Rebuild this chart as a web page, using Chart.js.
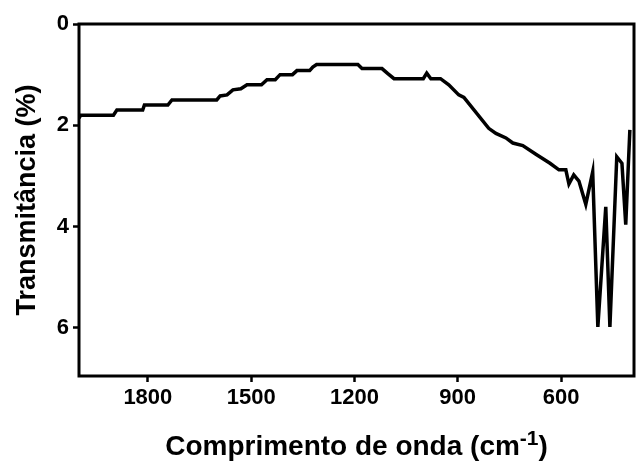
<!DOCTYPE html>
<html>
<head>
<meta charset="utf-8">
<script src="https://cdn.jsdelivr.net/npm/chart.js@4"></script>
<style>
  body { margin: 0; background: #fff; }
  #wrap { width: 636px; height: 467px; }
</style>
</head>
<body>
<div id="wrap"><canvas id="irChart" width="636" height="467"></canvas></div>
<script>
// FTIR spectrum
const waveNumbers = [2000, 1995, 1900, 1890, 1815, 1810, 1742, 1730, 1600, 1590,
  1570, 1553, 1530, 1512, 1470, 1454, 1430, 1416, 1380, 1367,
  1330, 1321, 1310, 1190, 1178, 1120, 1103, 1085, 1000, 990,
  978, 950, 926, 897, 882, 810, 789, 760, 740, 711,
  673, 632, 606, 586, 577, 563, 548, 528, 508, 493,
  470, 458, 438, 423, 412, 400];
const transmittance = [1.86, 1.80, 1.80, 1.70, 1.70, 1.60, 1.60, 1.50, 1.50, 1.42,
  1.40, 1.30, 1.28, 1.20, 1.20, 1.10, 1.10, 1.00, 1.00, 0.92,
  0.92, 0.85, 0.80, 0.80, 0.88, 0.88, 0.98, 1.08, 1.08, 0.97,
  1.08, 1.08, 1.20, 1.40, 1.45, 2.06, 2.16, 2.25, 2.35, 2.40,
  2.57, 2.75, 2.88, 2.88, 3.16, 2.98, 3.10, 3.56, 2.92, 5.98,
  3.61, 5.98, 2.62, 2.75, 3.96, 2.09];

const xTicks = [1800, 1500, 1200, 900, 600];
const yTicks = [0, 2, 4, 6];

const fontFamily = "'Liberation Sans', Arial, sans-serif";

// box around the plot + x title with superscript
const framePlugin = {
  id: "frame",
  afterDraw(chart) {
    const { ctx, chartArea } = chart;
    ctx.save();
    ctx.strokeStyle = "#000";
    ctx.lineWidth = 3;
    ctx.strokeRect(chartArea.left, chartArea.top,
      chartArea.right - chartArea.left, chartArea.bottom - chartArea.top);

    // "Comprimento de onda (cm-1)"
    const big = "bold 28px " + fontFamily;
    const small = "bold 21px " + fontFamily;
    const part1 = "Comprimento de onda (cm";
    const sup = "-1";
    const part2 = ")";
    ctx.fillStyle = "#000";
    ctx.textBaseline = "alphabetic";
    ctx.textAlign = "left";
    ctx.font = big;
    const w1 = ctx.measureText(part1).width;
    const w3 = ctx.measureText(part2).width;
    ctx.font = small;
    const w2 = ctx.measureText(sup).width;
    const cx = (chartArea.left + chartArea.right) / 2;
    let x = cx - (w1 + w2 + w3) / 2;
    const baseY = 455;
    ctx.font = big;
    ctx.fillText(part1, x, baseY);
    x += w1;
    ctx.font = small;
    ctx.fillText(sup, x, baseY - 10);
    x += w2;
    ctx.font = big;
    ctx.fillText(part2, x, baseY);
    ctx.restore();
  }
};

const points = waveNumbers.map((w, i) => ({ x: w, y: transmittance[i] }));

new Chart(document.getElementById("irChart"), {
  type: "line",
  data: {
    datasets: [{
      data: points,
      borderColor: "#000",
      borderWidth: 3.5,
      pointRadius: 0,
      tension: 0,
      fill: false
    }]
  },
  options: {
    responsive: false,
    animation: false,
    layout: { padding: { top: 24, right: 2, left: 0, bottom: 0 } },
    plugins: {
      legend: { display: false },
      tooltip: { enabled: false }
    },
    scales: {
      x: {
        type: "linear",
        reverse: true,
        min: 388,
        max: 2000,
        afterBuildTicks: (scale) => { scale.ticks = xTicks.map(v => ({ value: v })); },
        afterFit: (scale) => { scale.height = 91; },
        border: { display: false },
        grid: { drawOnChartArea: false, tickLength: 6, tickWidth: 2.5, tickColor: "#000" },
        ticks: {
          color: "#000",
          padding: 3,
          maxRotation: 0,
          callback: (value) => String(value),
          font: { size: 22, weight: "bold", family: fontFamily }
        }
      },
      y: {
        reverse: true,
        min: 0,
        max: 6.95,
        afterBuildTicks: (scale) => { scale.ticks = yTicks.map(v => ({ value: v })); },
        afterFit: (scale) => { scale.width = 79; },
        border: { display: false },
        grid: { drawOnChartArea: false, tickLength: 6, tickWidth: 2.5, tickColor: "#000" },
        ticks: {
          color: "#000",
          padding: 4,
          callback: (value) => String(value),
          font: { size: 22, weight: "bold", family: fontFamily }
        },
        title: {
          display: true,
          text: "Transmitância (%)",
          color: "#000",
          padding: { top: 11, bottom: 0 },
          font: { size: 27, weight: "bold", family: fontFamily }
        }
      }
    }
  },
  plugins: [framePlugin]
});
</script>
</body>
</html>
